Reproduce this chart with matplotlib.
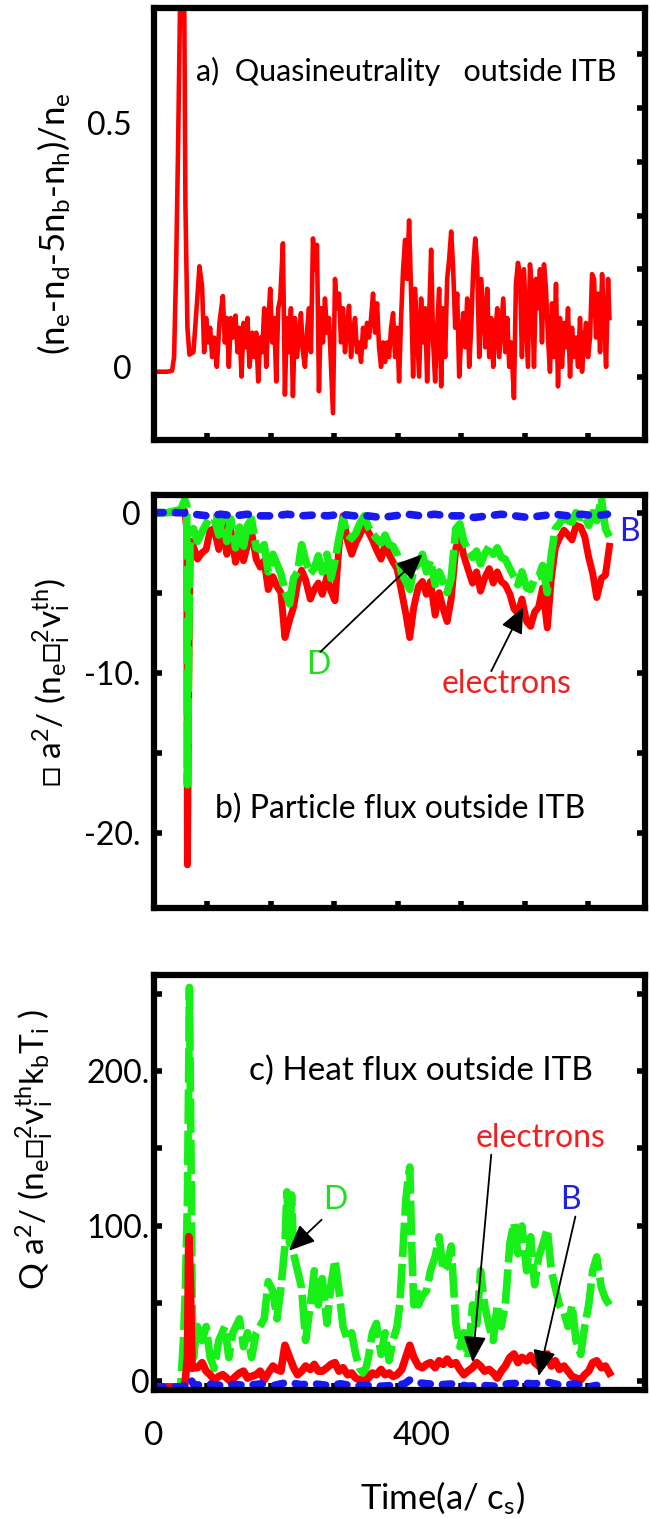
import matplotlib
matplotlib.use("Agg")
import matplotlib.pyplot as plt

plt.rcParams['font.family'] = ['Lato', 'DejaVu Sans']
plt.rcParams['mathtext.fontset'] = 'custom'
plt.rcParams['mathtext.rm'] = 'Lato'
plt.rcParams['mathtext.it'] = 'Lato:italic'
plt.rcParams['mathtext.bf'] = 'Lato:bold'

RED = '#ff0000'
GREEN = '#18ee18'
BLUE = '#1818f0'

##############  data

# a) quasineutrality, (time, value)
quasi = [(0, -0.01), (10, -0.01), (20, -0.01), (27, -0.008), (30, 0.02), (33, 0.2), (36, 0.45),
         (39, 0.75), (42, 0.8), (45, 0.8), (47, 0.33), (50, 0.08), (53, 0.025), (59, 0.03),
         (65, 0.145), (68, 0.206), (72, 0.165), (75, 0.03), (78, 0.1), (81, 0.05), (84, 0.08),
         (87, 0.02), (90, 0.06), (94, 0.0), (98, 0.09), (103, 0.145), (106, 0.05), (109, 0.1),
         (112, 0.0), (115, 0.1), (118, 0.06), (122, 0.105), (125, 0.03), (128, 0.08), (131, -0.02),
         (134, 0.09), (137, 0.04), (140, 0.1), (143, 0.0), (147, 0.07), (150, 0.02), (153, 0.07),
         (156, -0.03), (159, 0.06), (162, 0.03), (165, 0.12), (168, 0.0), (171, 0.09), (174, 0.16),
         (177, 0.05), (180, 0.1), (183, -0.03), (186, 0.12), (189, 0.14), (193, 0.253), (196, -0.057),
         (199, 0.1), (202, 0.03), (205, 0.12), (208, -0.06), (211, 0.1), (214, 0.02), (217, 0.06),
         (220, 0.11), (223, 0.03), (226, 0.0), (229, 0.07), (232, 0.12), (235, 0.03), (238, 0.263),
         (241, 0.2), (244, 0.25), (247, -0.05), (250, 0.12), (253, 0.05), (256, 0.14), (259, 0.07),
         (262, 0.1), (265, 0.0), (268, -0.095), (271, 0.18), (274, 0.12), (277, 0.15), (280, 0.05),
         (283, 0.12), (286, 0.03), (289, 0.08), (292, 0.125), (295, 0.02), (298, 0.07), (301, 0.1),
         (304, 0.03), (307, 0.05), (310, 0.01), (313, 0.08), (316, 0.04), (319, 0.09), (322, 0.06),
         (325, 0.1), (328, 0.15), (331, 0.07), (334, 0.13), (337, 0.04), (340, 0.0), (343, 0.05),
         (346, 0.01), (349, 0.05), (352, 0.02), (355, 0.08), (358, 0.11), (361, 0.02), (364, 0.08),
         (367, -0.03), (370, 0.1), (373, 0.2), (376, 0.26), (379, 0.18), (382, 0.30), (385, 0.15),
         (388, -0.02), (391, 0.16), (394, 0.07), (397, -0.02), (400, 0.14), (403, 0.05), (406, 0.12),
         (409, -0.03), (412, 0.1), (415, 0.24), (418, 0.05), (421, -0.03), (424, 0.08), (427, 0.16),
         (430, -0.04), (433, 0.12), (436, 0.02), (439, 0.18), (442, 0.22), (445, 0.277), (448, 0.2),
         (451, 0.08), (454, 0.15), (457, -0.02), (460, 0.06), (463, 0.11), (466, 0.04), (469, 0.14),
         (472, 0.0), (475, 0.08), (478, 0.2), (481, 0.263), (484, 0.21), (487, 0.02), (490, 0.18),
         (493, 0.11), (496, 0.04), (499, 0.16), (502, 0.02), (505, 0.1), (508, 0.0), (511, 0.07),
         (514, 0.12), (517, 0.02), (520, 0.08), (523, 0.14), (526, 0.03), (529, 0.1), (532, 0.0),
         (535, 0.05), (539, -0.064), (542, 0.17), (545, 0.213), (548, 0.19), (551, 0.02), (554, 0.2),
         (557, 0.1), (560, 0.0), (563, 0.21), (566, 0.16), (569, 0.0), (572, 0.18), (575, 0.12),
         (578, 0.2), (581, 0.05), (584, 0.21), (587, 0.16), (590, 0.06), (593, -0.01), (596, 0.13),
         (599, 0.02), (602, 0.17), (605, -0.04), (608, 0.1), (611, 0.0), (614, 0.09), (617, 0.04),
         (620, 0.12), (623, -0.02), (626, 0.08), (629, 0.02), (632, 0.06), (635, 0.0), (638, 0.1),
         (641, -0.01), (644, 0.05), (647, 0.09), (650, 0.02), (653, 0.06), (656, 0.19), (659, 0.18),
         (662, 0.06), (665, 0.15), (668, 0.03), (671, 0.19), (674, 0.1), (677, 0.0), (680, 0.18),
         (682, 0.1)]

# common time samples of the flux traces after the initial burst
t_grid = [59, 65, 72, 78, 84, 90, 97, 103, 109, 115,
          122, 128, 134, 140, 146, 153, 159, 165, 171, 178,
          184, 190, 196, 203, 209, 215, 221, 227, 234, 240,
          246, 252, 259, 265, 271, 277, 283, 290, 296, 302,
          308, 315, 321, 327, 333, 340, 346, 352, 358, 364,
          371, 377, 383, 389, 396, 402, 408, 414, 421, 427,
          433, 439, 445, 452, 458, 464, 470, 477, 483, 489,
          495, 502, 508, 514, 520, 526, 533, 539, 545, 551,
          558, 564, 570, 576, 582, 589, 595, 601, 607, 614,
          620, 626, 632, 639, 645, 651, 657, 663, 670, 676,
          682]

# b) particle flux
t_burst_b = [0, 20, 40, 46, 49, 50, 52, 54, 56]
pflux_e_burst = [0, 0, 0, 0.1, -1, -22, -10, -2.5, -1.8]
pflux_d_burst = [0, 0, 0.2, 0.8, 0.5, -17, -8, -1.5, -1.2]
pflux_e = [-2.1, -2.9, -2.5, -2.3, -1.1, -1.0, -2.3, -0.5, -2.6, -1.1,
           -3.1, -1.9, -3.0, -2.0, -1.2, -2.9, -3.4, -3.0, -4.8, -4.0,
           -4.6, -5.0, -7.8, -6.7, -5.9, -4.4, -3.6, -4.2, -5.4, -4.8,
           -4.4, -5.1, -4.0, -4.9, -5.5, -2.1, -0.2, -1.8, -2.6, -1.9,
           -1.4, -0.8, -1.2, -1.7, -2.3, -2.9, -2.0, -2.6, -3.1, -3.5,
           -5.0, -6.3, -7.8, -5.9, -4.6, -4.3, -5.1, -4.3, -6.4, -5.0,
           -6.0, -6.8, -5.4, -2.2, -1.6, -2.7, -3.5, -4.4, -3.7, -4.9,
           -4.1, -3.5, -4.4, -3.7, -4.3, -4.5, -5.1, -6.0, -6.3, -5.4,
           -6.8, -7.1, -6.2, -5.9, -4.7, -7.2, -4.1, -2.2, -1.6, -1.1,
           -1.4, -1.7, -0.8, -0.9, -1.5, -2.8, -3.8, -5.3, -4.1, -3.9,
           -2.1]
pflux_d = [-1.0, -1.8, -1.2, -0.7, -0.3, -0.3, -1.4, -0.2, -1.8, -0.4,
           -2.2, -0.9, -2.1, -0.8, -0.4, -2.2, -2.3, -2.0, -3.7, -2.6,
           -3.2, -3.8, -4.9, -5.7, -4.1, -3.7, -2.0, -3.0, -3.8, -3.5,
           -2.7, -3.7, -2.6, -4.1, -3.0, -1.6, -0.4, -1.4, -1.6, -1.3,
           -0.7, -0.2, -0.9, -1.3, -1.6, -1.9, -1.4, -2.0, -2.1, -2.6,
           -3.8, -4.3, -4.8, -3.5, -3.2, -2.6, -3.7, -3.0, -4.5, -3.7,
           -4.3, -5.0, -4.1, -1.0, -0.7, -1.8, -2.3, -2.8, -2.4, -3.2,
           -2.6, -2.1, -2.6, -2.2, -2.8, -2.9, -3.5, -4.0, -4.5, -3.7,
           -4.7, -4.8, -4.1, -4.0, -3.3, -5.0, -2.6, -1.0, -0.7, -0.2,
           -0.5, -0.6, 0.0, -0.3, -0.2, -0.8, 0.0, -0.5, 0.9, -1.0,
           -1.5]
pflux_b = [(0, 0), (20, 0), (40, 0), (60, -0.1), (80, -0.2), (100, -0.1), (120, -0.2),
           (140, -0.1), (160, -0.2), (180, -0.2), (200, -0.1), (220, -0.2), (240, -0.15),
           (260, -0.2), (280, -0.1), (300, -0.2), (320, -0.2), (340, -0.3), (360, -0.2),
           (380, -0.1), (400, -0.2), (420, -0.1), (440, -0.2), (460, -0.2), (480, -0.3),
           (500, -0.2), (520, -0.1), (540, -0.2), (560, -0.3), (580, -0.2), (600, -0.1),
           (620, -0.2), (640, -0.1), (660, -0.2), (679, -0.1)]

# c) heat flux
hflux_d = [(0, -4), (20, -4), (35, -4), (40, -3), (44, 26), (47, 60), (50, 116), (52, 205),
           (53, 254), (54, 205), (56, 116), (57, 49), (59, 15), (62, 26), (65, 35), (72, 26),
           (78, 35), (84, 15), (90, 8), (97, 26), (106, 35), (112, 15), (118, 31), (128, 40),
           (134, 22), (140, 31), (146, 15), (153, 31), (165, 40), (171, 64), (178, 58), (184, 40),
           (190, 60), (196, 87), (199, 122), (203, 89), (206, 120), (209, 82), (215, 71), (221, 60),
           (227, 26), (234, 49), (240, 71), (246, 49), (252, 66), (259, 37), (265, 62), (271, 78),
           (277, 58), (283, 35), (290, 26), (296, 31), (302, 17), (308, 8), (315, 4), (321, 15),
           (327, 31), (333, 37), (340, 17), (346, 31), (352, 13), (358, 26), (364, 35), (368, 49),
           (371, 71), (374, 93), (377, 116), (380, 129), (383, 138), (386, 87), (389, 49), (393, 60),
           (396, 49), (402, 55), (408, 58), (414, 71), (421, 80), (427, 93), (433, 71), (439, 75),
           (445, 87), (452, 37), (458, 22), (464, 31), (470, 15), (477, 49), (483, 33), (489, 71),
           (495, 49), (502, 35), (508, 26), (514, 49), (520, 35), (526, 49), (533, 89), (539, 102),
           (545, 82), (551, 100), (558, 71), (564, 93), (570, 62), (576, 80), (583, 89), (589, 98),
           (595, 71), (601, 60), (607, 49), (614, 44), (620, 35), (626, 49), (632, 26), (639, 17),
           (645, 35), (651, 49), (657, 71), (663, 80), (670, 60), (676, 53), (682, 49)]
t_burst_c = [0, 20, 40, 46, 50, 52, 54, 57]
hflux_e_burst = [-4, -4, -4, -3, 15, 93, 70, 8]
hflux_e = [8.4, 8.4, 11.7, 6.2, 3.9, 0.6, 2.8, 3.9, 1.7, -0.5,
           2.8, 5.0, 6.2, 1.7, 2.8, 3.9, 6.2, 0.6, 5.0, 9.5,
           7.3, 6.2, 22.9, 15.1, 8.4, 3.9, 6.2, 9.5, 7.3, 10.6,
           6.2, 6.2, 8.4, 10.6, 11.7, 6.2, 8.4, 3.9, 5.0, 1.7,
           0.6, -0.5, 1.7, 5.0, 3.9, 7.3, 3.9, 5.0, 2.8, 3.9,
           7.3, 15.1, 22.9, 15.1, 9.5, 8.4, 10.6, 11.7, 8.4, 12.9,
           10.6, 14.0, 10.6, 11.7, 7.3, 3.9, 6.2, 8.4, 11.7, 9.5,
           6.2, 7.3, 5.0, 1.7, 6.2, 9.5, 15.1, 17.3, 11.7, 15.1,
           12.9, 16.2, 11.7, 9.5, 12.9, 17.3, 9.5, 12.9, 7.3, 9.5,
           6.2, 2.8, 1.7, 0.6, 3.9, 6.2, 11.7, 12.9, 8.4, 9.5,
           5.0]
hflux_b = [(0, -4), (20, -4), (40, -4), (50, -3), (55, 1), (60, -3), (80, -2), (100, -3),
           (120, -2.5), (140, -3), (160, -2), (180, -3), (200, -1), (220, -2.5), (240, -2),
           (260, -3), (280, -2), (300, -3.5), (320, -3), (340, -3.5), (360, -3), (375, -2),
           (383, 0.5), (390, -1), (410, -2), (430, -2.5), (450, -2), (470, -3.5), (490, -3),
           (510, -3.5), (530, -2), (550, -1.5), (570, -2), (590, -1), (610, -3), (630, -2),
           (650, -4), (663, -3)]

bottom_ticks = [80, 175, 270, 365, 460, 555, 650]

##############

TICK_FS = 23
TEXT_FS = 23


def frame(ax):
    for s in ax.spines.values():
        s.set_linewidth(4.5)
    ax.set_xlim(0, 735)
    ax.set_xticks(bottom_ticks, labels=[])
    ax.tick_params(axis='x', which='major', direction='in', length=5, width=4, top=False)
    ax.tick_params(axis='y', labelsize=TICK_FS)


def arrow(ax, text_xy, head_xy):
    ax.annotate('', xy=head_xy, xytext=text_xy,
                arrowprops=dict(arrowstyle='-|>,head_length=0.8,head_width=0.35',
                                mutation_scale=20, color='black', lw=1.3,
                                shrinkA=0, shrinkB=0))


fig = plt.figure(figsize=(6.5, 15.19), dpi=100)
ax_a = fig.add_axes([0.237, 0.7103, 0.755, 0.2844])
ax_b = fig.add_axes([0.237, 0.4022, 0.755, 0.2719])
ax_c = fig.add_axes([0.237, 0.0849, 0.755, 0.2732])

# ---- a) quasineutrality
ax = ax_a
frame(ax)
t_a, q_a = zip(*quasi)
ax.plot(t_a, q_a, color=RED, lw=3.3)
ax.set_ylim(-0.15, 0.735)
ax.set_yticks([0, 0.5], labels=['0', '0.5'])
ax.set_yticks([-0.02, 0.09, 0.2, 0.31, 0.42, 0.53, 0.64], minor=True)
ax.tick_params(axis='y', which='major', length=0, pad=16)
ax.tick_params(axis='y', which='minor', left=False, right=True, direction='in', length=6, width=4)
ax.set_ylabel(r'(n$_\mathrm{e}$-n$_\mathrm{d}$-5n$_\mathrm{b}$-n$_\mathrm{h}$)/n$_\mathrm{e}$',
              fontsize=25)
ax.yaxis.set_label_coords(-0.167, 0.5)
ax.text(378, 0.605, 'a)  Quasineutrality   outside ITB', fontsize=22, ha='center', va='center')

# ---- b) particle flux
ax = ax_b
frame(ax)
t_b = t_burst_b + t_grid
ax.plot(t_b, pflux_e_burst + pflux_e, color=RED, lw=5)
ax.plot(t_b, pflux_d_burst + pflux_d, color=GREEN, lw=5.5, ls=(0, (6, 0.8)))
t_bb, g_bb = zip(*pflux_b)
ax.plot(t_bb, g_bb, color=BLUE, lw=5.5, ls=(0, (1.2, 1.6)), dash_capstyle='round')
ax.set_ylim(-24.7, 1.1)
ax.set_yticks([0, -10, -20], labels=['0', '-10.', '-20.'])
ax.set_yticks([-5, -15], minor=True)
ax.tick_params(axis='y', which='both', direction='in', length=6, width=4, left=True, right=True, pad=10)
ax.set_ylabel(r'□ a$^\mathrm{2}$/ (n$_\mathrm{e}$□$_\mathrm{i}^\mathrm{2}$v$_\mathrm{i}^\mathrm{th}$)',
              fontsize=24)
ax.yaxis.set_label_coords(-0.165, 0.545)
ax.text(368, -18.5, 'b) Particle flux outside ITB', fontsize=TEXT_FS, ha='center', va='center')
ax.text(246, -9.5, 'D', color='#22dd22', fontsize=TEXT_FS, ha='center', va='center')
ax.text(528, -10.7, 'electrons', color='#ee2020', fontsize=TEXT_FS, ha='center', va='center')
ax.text(712, -1.2, 'B', color='#2020e0', fontsize=TEXT_FS, ha='center', va='center')
arrow(ax, (249, -8.7), (402, -2.6))
arrow(ax, (505, -9.9), (553, -5.9))

# ---- c) heat flux
ax = ax_c
frame(ax)
t_cd, q_cd = zip(*hflux_d)
ax.plot(t_cd, q_cd, color=GREEN, lw=5.5, ls=(0, (4.5, 0.9)))
ax.plot(t_burst_c + t_grid, hflux_e_burst + hflux_e, color=RED, lw=5.5)
t_cb, q_cb = zip(*hflux_b)
ax.plot(t_cb, q_cb, color=BLUE, lw=5.5, ls=(0, (1.2, 1.6)), dash_capstyle='round')
ax.set_ylim(-6, 262)
ax.set_yticks([0, 100, 200], labels=['0', '100.', '200.'])
ax.set_yticks([50, 150, 250], minor=True)
ax.tick_params(axis='y', which='both', direction='in', length=6, width=4, left=True, right=True, pad=3)
ax.set_xticks([0, 400], labels=['0', '400'], minor=True)
ax.tick_params(axis='x', which='minor', length=0, labelsize=TICK_FS + 1, pad=22)
ax.set_ylabel(r'Q a$^\mathrm{2}$/ (n$_\mathrm{e}$□$_\mathrm{i}^\mathrm{2}$v$_\mathrm{i}^\mathrm{th}$'
              r'k$_\mathrm{b}$T$_\mathrm{i}$ )', fontsize=24)
ax.yaxis.set_label_coords(-0.2, 0.58)
ax.text(400, 200, 'c) Heat flux outside ITB', fontsize=24, ha='center', va='center')
ax.text(579, 157, 'electrons', color='#ee2020', fontsize=TEXT_FS, ha='center', va='center')
ax.text(271, 117, 'D', color='#22dd22', fontsize=TEXT_FS, ha='center', va='center')
ax.text(623, 117, 'B', color='#2020e0', fontsize=TEXT_FS, ha='center', va='center')
arrow(ax, (251, 104), (202, 84))
arrow(ax, (505, 146), (477, 12))
arrow(ax, (631, 106), (576, 3))
ax.text(0.587, -0.26, r'Time(a/ c$_\mathrm{s}$)', transform=ax.transAxes,
        fontsize=25, ha='center', va='center')

fig.savefig('out.png', dpi=100)
